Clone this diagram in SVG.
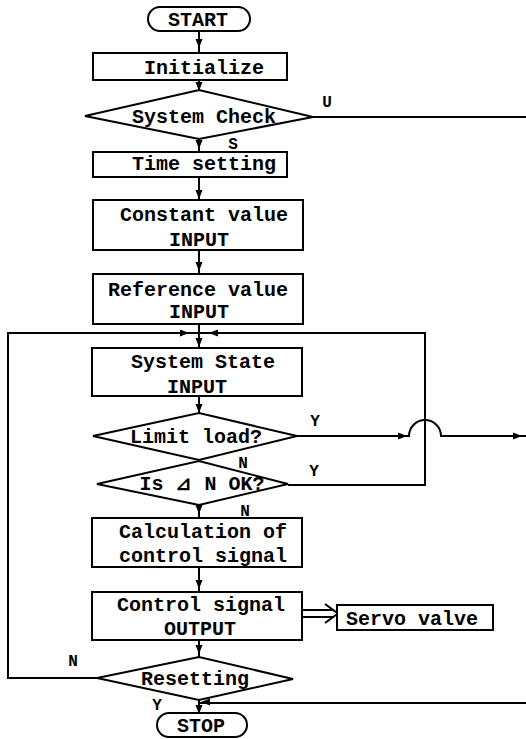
<svg xmlns="http://www.w3.org/2000/svg" xmlns:xlink="http://www.w3.org/1999/xlink" width="526" height="739" viewBox="0 0 526 739">
  <style>
    .box { fill: #fff; stroke: #000; stroke-width: 2; }
    .ln { fill: none; stroke: #000; stroke-width: 2; }
    .t { font-family: "Liberation Mono", "Courier New", monospace; font-size: 20px; font-weight: bold; fill: #000; text-anchor: middle; }
    .lb { font-family: "Liberation Mono", "Courier New", monospace; font-size: 16px; font-weight: bold; fill: #000; text-anchor: middle; }
  </style>
  <defs>
    <path id="ah" d="M0,0 L-9,-3.5 L-9,3.5 Z" fill="#000"/>
  </defs>
  <rect width="526" height="739" fill="#fff"/>

  <!-- connectors -->
  <g id="connectors">
    <path class="ln" d="M199,32 V53"/>
    <use xlink:href="#ah" transform="translate(199,48) rotate(90)"/>
    <path class="ln" d="M199,80 V90"/>
    <use xlink:href="#ah" transform="translate(199,91) rotate(90)"/>
    <path class="ln" d="M199,139 V152"/>
    <use xlink:href="#ah" transform="translate(199,149) rotate(90)"/>
    <path class="ln" d="M199,177 V200"/>
    <use xlink:href="#ah" transform="translate(199,199) rotate(90)"/>
    <path class="ln" d="M199,250 V274"/>
    <use xlink:href="#ah" transform="translate(199,271) rotate(90)"/>
    <path class="ln" d="M199,324 V348"/>
    <use xlink:href="#ah" transform="translate(199,347) rotate(90)"/>
    <path class="ln" d="M199,396 V413"/>
    <use xlink:href="#ah" transform="translate(199,413) rotate(90)"/>
    <use xlink:href="#ah" transform="translate(199,461) rotate(90)"/>
    <path class="ln" d="M199,505 V518"/>
    <use xlink:href="#ah" transform="translate(199,514) rotate(90)"/>
    <path class="ln" d="M199,567 V592"/>
    <use xlink:href="#ah" transform="translate(199,589) rotate(90)"/>
    <path class="ln" d="M199,640 V657"/>
    <use xlink:href="#ah" transform="translate(199,654) rotate(90)"/>
    <path class="ln" d="M199,700 V713"/>
    <use xlink:href="#ah" transform="translate(199,714) rotate(90)"/>

    <!-- U exit -->
    <path class="ln" d="M313,117 H526"/>

    <!-- main loop return line -->
    <path class="ln" d="M97,678 H8 V333 H425 V485 H288"/>
    <use xlink:href="#ah" transform="translate(189,333)"/>
    <use xlink:href="#ah" transform="translate(209,333) rotate(180)"/>

    <!-- Limit load Y exit with hop over the loop line -->
    <path class="ln" d="M297,436 H409 A16,16 0 0 1 441,436 H526"/>
    <use xlink:href="#ah" transform="translate(407,436)"/>
    <use xlink:href="#ah" transform="translate(522,436)"/>

    <!-- return into STOP path -->
    <path class="ln" d="M526,703 H200"/>
    <use xlink:href="#ah" transform="translate(201,702) rotate(180)"/>

    <!-- output to servo valve -->
    <path class="ln" d="M302,610 H334 M302,617 H334"/>
    <path class="ln" d="M325,604 L338,613.5 L325,623"/>
  </g>

  <g id="start">
    <rect class="box" x="148" y="7" width="102" height="24" rx="12"/>
    <text class="t" x="198" y="26">START</text>
  </g>
  <g id="initialize">
    <rect class="box" x="93" y="53" width="194" height="27"/>
    <text class="t" x="204" y="74">Initialize</text>
  </g>
  <g id="system-check">
    <polygon class="box" points="85,116 199,90 313,117 199,139"/>
    <text class="t" x="204" y="123">System Check</text>
  </g>
  <g id="time-setting">
    <rect class="box" x="93" y="152" width="194" height="25"/>
    <text class="t" x="204" y="170">Time setting</text>
  </g>
  <g id="constant-value">
    <rect class="box" x="93" y="200" width="210" height="50"/>
    <text class="t" x="204" y="221">Constant value</text>
    <text class="t" x="199" y="246">INPUT</text>
  </g>
  <g id="reference-value">
    <rect class="box" x="93" y="274" width="210" height="50"/>
    <text class="t" x="198" y="296">Reference value</text>
    <text class="t" x="199" y="318">INPUT</text>
  </g>
  <g id="system-state">
    <rect class="box" x="92" y="348" width="210" height="48"/>
    <text class="t" x="203" y="368">System State</text>
    <text class="t" x="197" y="393">INPUT</text>
  </g>
  <g id="limit-load">
    <polygon class="box" points="93,436 199,413 297,436 199,460"/>
    <text class="t" x="196" y="443">Limit load?</text>
  </g>
  <g id="delta-n">
    <polygon class="box" points="97,484 199,461 288,484 199,505"/>
    <text class="t" x="202" y="490">Is ⊿ N OK?</text>
  </g>
  <g id="calculation">
    <rect class="box" x="92" y="518" width="210" height="49"/>
    <text class="t" x="203" y="538">Calculation of</text>
    <text class="t" x="203" y="562">control signal</text>
  </g>
  <g id="control-output">
    <rect class="box" x="92" y="592" width="210" height="48"/>
    <text class="t" x="201" y="611">Control signal</text>
    <text class="t" x="200" y="635">OUTPUT</text>
  </g>
  <g id="servo-valve">
    <rect class="box" x="337" y="605" width="156" height="25"/>
    <text class="t" x="412" y="625">Servo valve</text>
  </g>
  <g id="resetting">
    <polygon class="box" points="97,678 199,657 293,679 199,700"/>
    <text class="t" x="195" y="685">Resetting</text>
  </g>
  <g id="stop">
    <rect class="box" x="157" y="713" width="90" height="24" rx="12"/>
    <text class="t" x="201" y="732">STOP</text>
  </g>

  <!-- branch labels -->
  <g id="labels">
    <text class="lb" x="327" y="107">U</text>
    <text class="lb" x="233" y="149">S</text>
    <text class="lb" x="315" y="426">Y</text>
    <text class="lb" x="243" y="468">N</text>
    <text class="lb" x="314" y="476">Y</text>
    <text class="lb" x="245" y="516">N</text>
    <text class="lb" x="73" y="666">N</text>
    <text class="lb" x="157" y="710">Y</text>
  </g>
</svg>
